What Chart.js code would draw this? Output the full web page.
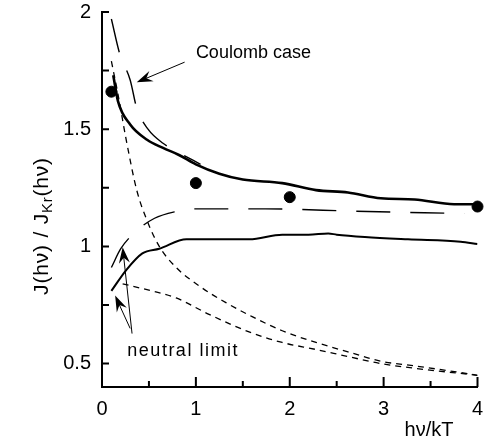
<!DOCTYPE html>
<html>
<head>
<meta charset="utf-8">
<script src="https://cdn.jsdelivr.net/npm/chart.js@4/dist/chart.umd.min.js"></script>
<style>
  html, body { margin: 0; padding: 0; background: #fff; }
  #wrap { width: 484px; height: 440px; }
</style>
</head>
<body>
<div id="wrap"><canvas id="chart" width="484" height="440"></canvas></div>
<script>
// ---- data ----
const upperSolidX = [0.12, 0.17, 0.30, 0.48, 0.65, 0.82, 1.00, 1.25, 1.50, 1.92, 2.28, 2.62, 2.97, 3.33, 3.75, 4.00];
const upperSolidY = [1.73, 1.62, 1.52, 1.455, 1.42, 1.39, 1.35, 1.31, 1.285, 1.27, 1.24, 1.23, 1.205, 1.20, 1.18, 1.18];

const coulombDashX = [0.10, 0.19, 0.30, 0.37, 0.49, 0.65, 0.82, 1.05];
const coulombDashY = [1.97, 1.82, 1.71, 1.59, 1.50, 1.44, 1.40, 1.35];

const midDashX = [0.10, 0.20, 0.35, 0.56, 0.80, 0.96, 1.32, 1.74, 2.70, 3.86];
const midDashY = [0.91, 0.99, 1.06, 1.12, 1.15, 1.16, 1.16, 1.16, 1.15, 1.14];

const lowerSolidX = [0.10, 0.26, 0.43, 0.61, 0.90, 1.25, 1.57, 1.92, 2.20, 2.41, 2.50, 2.80, 3.26, 3.82, 4.00];
const lowerSolidY = [0.81, 0.90, 0.97, 0.99, 1.03, 1.03, 1.03, 1.05, 1.05, 1.055, 1.05, 1.04, 1.03, 1.02, 1.01];

const shortDashAX = [0.10, 0.17, 0.26, 0.37, 0.48, 0.61, 0.79, 1.04, 1.32, 1.60, 1.92, 2.28, 2.62, 2.97, 3.33, 3.68, 4.00];
const shortDashAY = [1.79, 1.65, 1.45, 1.24, 1.11, 1.00, 0.91, 0.83, 0.76, 0.70, 0.64, 0.59, 0.55, 0.51, 0.49, 0.47, 0.45];

const shortDashBX = [0.22, 0.43, 0.79, 1.14, 1.60, 1.92, 2.28, 2.62, 2.97, 3.33, 4.00];
const shortDashBY = [0.84, 0.82, 0.78, 0.71, 0.63, 0.59, 0.56, 0.53, 0.50, 0.48, 0.45];

const dotsX = [0.1, 1, 2, 4];
const dotsY = [1.66, 1.27, 1.21, 1.17];

const xTickValues = [0, 0.5, 1, 1.5, 2, 2.5, 3, 3.5, 4];
const yTickValues = [0.5, 0.75, 1, 1.25, 1.5, 1.75, 2];
const xTickLabels = { 0: "0", 1: "1", 2: "2", 3: "3", 4: "4" };
const yTickLabels = { 0.5: "0.5", 1: "1", 1.5: "1.5", 2: "2" };

// annotations: text anchor and arrows (tail -> tip), in data units
const notes = [
  { text: "Coulomb case", x: 1.0, y: 1.825, spacing: 0 },
  { text: "neutral limit", x: 0.27, y: 0.555, spacing: 1.5 },
];
const arrows = [
  { from: [0.88, 1.786], to: [0.37, 1.70] },
  { from: [0.32, 0.628], to: [0.22, 0.996] },
  { from: [0.30, 0.650], to: [0.14, 0.790] },
];

const FONT = "'Liberation Sans', Arial, Helvetica, sans-serif";
const pts = (xs, ys) => xs.map((x, i) => ({ x, y: ys[i] }));

function line(xs, ys, width, dash) {
  return {
    data: pts(xs, ys),
    borderColor: "#000",
    borderWidth: width,
    borderDash: dash,
    pointRadius: 0,
    fill: false,
    cubicInterpolationMode: "monotone",
  };
}

// inward tick marks
const innerTicks = {
  id: "innerTicks",
  afterDatasetsDraw(chart) {
    const { ctx, scales: { x, y } } = chart;
    ctx.save();
    ctx.strokeStyle = "#000";
    ctx.lineWidth = 2;
    ctx.beginPath();
    for (const v of xTickValues) {
      const px = x.getPixelForValue(v);
      const len = Number.isInteger(v) ? 10 : 6;
      ctx.moveTo(px, y.bottom);
      ctx.lineTo(px, y.bottom - len);
    }
    for (const v of yTickValues) {
      const py = y.getPixelForValue(v);
      ctx.moveTo(x.left, py);
      ctx.lineTo(x.left + 7, py);
    }
    ctx.stroke();
    ctx.restore();
  },
};

// notes, arrows, axis titles
const extras = {
  id: "extras",
  afterDraw(chart) {
    const { ctx, scales: { x, y } } = chart;
    ctx.save();
    ctx.fillStyle = "#000";
    ctx.strokeStyle = "#000";

    ctx.font = "18px " + FONT;
    ctx.textBaseline = "middle";
    ctx.textAlign = "left";
    for (const n of notes) {
      ctx.letterSpacing = n.spacing + "px";
      ctx.fillText(n.text, x.getPixelForValue(n.x), y.getPixelForValue(n.y));
    }
    ctx.letterSpacing = "0px";

    ctx.lineWidth = 1;
    for (const a of arrows) {
      const x0 = x.getPixelForValue(a.from[0]), y0 = y.getPixelForValue(a.from[1]);
      const x1 = x.getPixelForValue(a.to[0]), y1 = y.getPixelForValue(a.to[1]);
      const ang = Math.atan2(y1 - y0, x1 - x0);
      const L = 16, W = 5.5;
      ctx.beginPath();
      ctx.moveTo(x0, y0);
      ctx.lineTo(x1 - Math.cos(ang) * L * 0.6, y1 - Math.sin(ang) * L * 0.6);
      ctx.stroke();
      ctx.beginPath();
      ctx.moveTo(x1, y1);
      ctx.lineTo(x1 - Math.cos(ang) * L - Math.sin(ang) * W, y1 - Math.sin(ang) * L + Math.cos(ang) * W);
      ctx.lineTo(x1 - Math.cos(ang) * L * 0.65, y1 - Math.sin(ang) * L * 0.65);
      ctx.lineTo(x1 - Math.cos(ang) * L + Math.sin(ang) * W, y1 - Math.sin(ang) * L - Math.cos(ang) * W);
      ctx.closePath();
      ctx.fill();
    }

    // x title
    ctx.font = "20px " + FONT;
    ctx.textAlign = "center";
    ctx.fillText("h\u03bd/kT", 429, 430);

    // y title with subscript
    ctx.translate(42, 226);
    ctx.rotate(-Math.PI / 2);
    ctx.letterSpacing = "0.8px";
    const big = "21px " + FONT, small = "15px " + FONT;
    const parts = [["J(h\u03bd) / J", big, 0], ["Kr", small, 6], ["(h\u03bd)", big, 0]];
    let total = 0;
    for (const [t, f] of parts) { ctx.font = f; total += ctx.measureText(t).width; }
    let cx = -total / 2;
    ctx.textAlign = "left";
    for (const [t, f, dy] of parts) {
      ctx.font = f;
      ctx.fillText(t, cx, dy);
      cx += ctx.measureText(t).width;
    }
    ctx.restore();
  },
};

new Chart(document.getElementById("chart"), {
  type: "line",
  data: {
    datasets: [
      line(upperSolidX, upperSolidY, 2.6, []),
      line(coulombDashX, coulombDashY, 1.4, [34, 20]),
      line(midDashX, midDashY, 1.4, [34, 20]),
      line(lowerSolidX, lowerSolidY, 2.0, []),
      line(shortDashAX, shortDashAY, 1.3, [6, 5]),
      line(shortDashBX, shortDashBY, 1.3, [6, 5]),
      {
        type: "scatter",
        data: pts(dotsX, dotsY),
        pointRadius: 5.5,
        pointBackgroundColor: "#000",
        pointBorderColor: "#000",
        showLine: false,
        clip: false,
      },
    ],
  },
  options: {
    responsive: false,
    animation: false,
    layout: { padding: { top: 12, right: 4, left: 0, bottom: 0 } },
    plugins: { legend: { display: false }, tooltip: { enabled: false } },
    scales: {
      x: {
        type: "linear",
        min: 0,
        max: 4,
        afterBuildTicks: (s) => { s.ticks = xTickValues.map((v) => ({ value: v })); },
        afterFit: (s) => { s.height = 53; s.paddingLeft = 0; s.paddingRight = 0; },
        ticks: {
          autoSkip: false,
          maxRotation: 0,
          padding: 10,
          color: "#000",
          font: { family: FONT, size: 20 },
          callback: (v) => xTickLabels[v] ?? "",
        },
        grid: { display: false, drawTicks: false },
        border: { display: true, color: "#000", width: 2 },
      },
      y: {
        type: "linear",
        min: 0.4,
        max: 2,
        afterBuildTicks: (s) => { s.ticks = yTickValues.map((v) => ({ value: v })); },
        afterFit: (s) => { s.width = 102; s.paddingTop = 0; s.paddingBottom = 0; },
        ticks: {
          autoSkip: false,
          padding: 11,
          color: "#000",
          font: { family: FONT, size: 20 },
          callback: (v) => yTickLabels[v] ?? "",
        },
        grid: { display: false, drawTicks: false },
        border: { display: true, color: "#000", width: 2 },
      },
    },
  },
  plugins: [innerTicks, extras],
});
</script>
</body>
</html>
